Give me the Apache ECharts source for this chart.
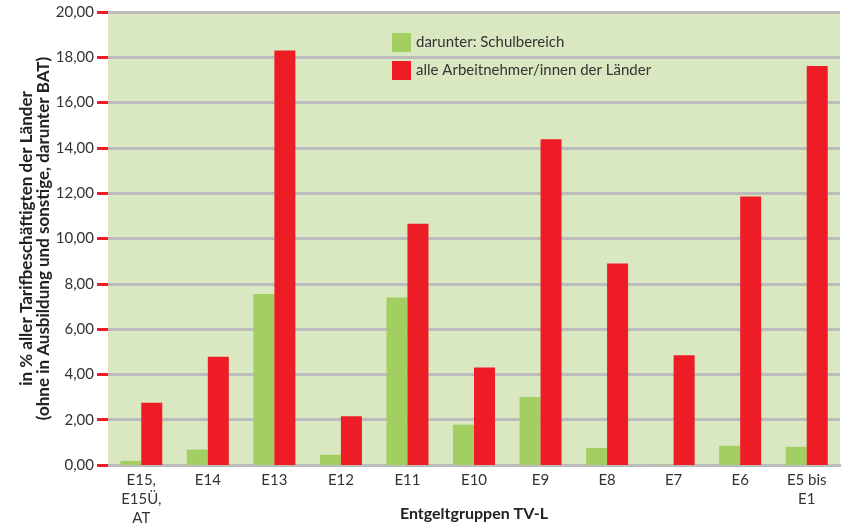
<!DOCTYPE html>
<html>
<head>
<meta charset="utf-8">
<script src="https://cdn.jsdelivr.net/npm/echarts@6/dist/echarts.min.js"></script>
<style>
  html, body { margin: 0; padding: 0; background: #fff; }
  #chart { width: 845px; height: 525px; }
</style>
</head>
<body>
<div id="chart"></div>
<script>
// Entgeltgruppen
var categories = ['E15,\nE15Ü,\nAT', 'E14', 'E13', 'E12', 'E11', 'E10', 'E9', 'E8', 'E7', 'E6', 'E5 bis\nE1'];
// darunter: Schulbereich
var schulbereich = [0.18, 0.68, 7.55, 0.45, 7.4, 1.78, 3.0, 0.75, 0.02, 0.85, 0.8];
// alle Arbeitnehmer/innen der Länder
var alleLaender = [2.75, 4.78, 18.3, 2.15, 10.65, 4.3, 14.38, 8.9, 4.85, 11.85, 17.62];

var chart = echarts.init(document.getElementById('chart'));
var font = 'Lato, "Open Sans", sans-serif';

chart.setOption({
  animation: false,
  textStyle: { fontFamily: font },
  grid: {
    left: 108,
    right: 5,
    top: 12,
    bottom: 60,
    containLabel: false,
    outerBoundsMode: 'none',
    show: true,
    backgroundColor: '#d9e8c0',
    borderWidth: 0,
  },
  legend: {
    orient: 'vertical',
    left: 392,
    top: 33,
    padding: 0,
    itemWidth: 19,
    itemHeight: 19,
    itemGap: 9,
    icon: 'rect',
    textStyle: { fontSize: 15, color: '#333', fontFamily: font },
    data: ['darunter: Schulbereich', 'alle Arbeitnehmer/innen der Länder'],
  },
  xAxis: {
    type: 'category',
    data: categories,
    name: 'Entgeltgruppen TV-L',
    nameLocation: 'middle',
    nameGap: 41,
    nameMoveOverlap: false,
    nameTextStyle: { fontSize: 16, fontWeight: 'bold', color: '#222', fontFamily: font },
    axisLine: { lineStyle: { color: '#bcbcbc', width: 3 } },
    axisTick: { length: 22, lineStyle: { color: '#bcbcbc', width: 3 } },
    axisLabel: { fontSize: 15, color: '#333', lineHeight: 19, margin: 6, fontFamily: font },
  },
  yAxis: {
    type: 'value',
    min: 0,
    max: 20,
    interval: 2,
    name: 'in % aller Tarifbeschäftigten der Länder\n(ohne in Ausbildung und sonstige, darunter BAT)',
    nameLocation: 'middle',
    nameGap: 56,
    nameMoveOverlap: false,
    nameRotate: 90,
    nameTextStyle: { fontSize: 17, fontWeight: 'bold', color: '#222', lineHeight: 17, fontFamily: font },
    axisLine: { show: false },
    axisTick: { show: true, length: 11, lineStyle: { color: '#ee1c25', width: 3 } },
    axisLabel: {
      fontSize: 15,
      color: '#333',
      margin: 14,
      fontFamily: font,
      formatter: function (v) { return v.toFixed(2).replace('.', ','); },
    },
    splitLine: { lineStyle: { color: '#bcbcbc', width: 3 } },
  },
  series: [
    {
      name: 'darunter: Schulbereich',
      type: 'bar',
      barWidth: 21,
      barGap: '0%',
      itemStyle: { color: '#a3cf62' },
      data: schulbereich,
    },
    {
      name: 'alle Arbeitnehmer/innen der Länder',
      type: 'bar',
      barWidth: 21,
      itemStyle: { color: '#ee1c25' },
      data: alleLaender,
    },
  ],
});
</script>
</body>
</html>
